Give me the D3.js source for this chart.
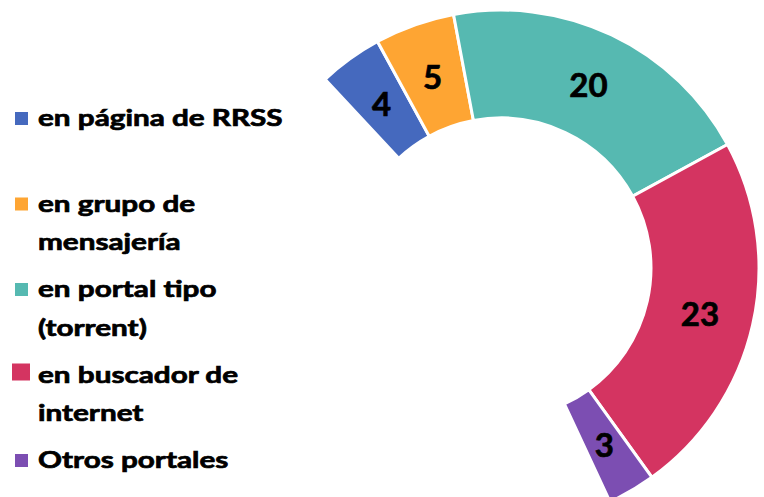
<!DOCTYPE html>
<html>
<head>
<meta charset="utf-8">
<script src="https://cdn.jsdelivr.net/npm/d3@7"></script>
<style>
  body { margin: 0; background: #fff; }
  text { font-family: Lato, "Open Sans", sans-serif; font-weight: bold; stroke: #000; stroke-width: 0.7px; }
</style>
</head>
<body>
<div id="chart"></div>
<script>
// data
const categories = ["en página de RRSS", "en grupo de mensajería", "en portal tipo (torrent)", "en buscador de internet", "Otros portales"];
const legendLines = [["en página de RRSS"], ["en grupo de", "mensajería"], ["en portal tipo", "(torrent)"], ["en buscador de", "internet"], ["Otros portales"]];
const values = [4, 5, 20, 23, 3];
const hiddenValue = 45;   // invisible remainder of the donut
const colors = ["#4569BE", "#FEA533", "#56B9B1", "#D43461", "#7C4EB2"];

const svgWidth = 764;
const svgHeight = 497;

const svg = d3.select("#chart")
    .append("svg")
    .attr("width", svgWidth)
    .attr("height", svgHeight);

// donut
const cx = 501, cy = 268;
const outerR = 258, innerR = 150;
const startDeg = -43;

const pieData = values.map((v, i) => ({ name: categories[i], value: v, color: colors[i] }))
    .concat([{ name: "hidden", value: hiddenValue, color: "none" }]);

const pie = d3.pie()
    .value(d => d.value)
    .sort(null)
    .startAngle(startDeg * Math.PI / 180)
    .endAngle(startDeg * Math.PI / 180 + 2 * Math.PI);

const arc = d3.arc()
    .innerRadius(innerR)
    .outerRadius(outerR);

const donut = svg.append("g")
    .attr("transform", `translate(${cx}, ${cy})`);

const slices = pie(pieData).filter(d => d.data.name !== "hidden");

donut.selectAll("path")
    .data(slices)
    .enter()
    .append("path")
    .attr("d", arc)
    .attr("fill", d => d.data.color)
    .attr("stroke", "#fff")
    .attr("stroke-width", 3);

donut.selectAll("text")
    .data(slices)
    .enter()
    .append("text")
    .attr("transform", d => `translate(${arc.centroid(d)})`)
    .attr("text-anchor", "middle")
    .attr("dominant-baseline", "central")
    .style("font-size", "33px")
    .attr("fill", "#000")
    .text(d => d.data.value);

// legend (text is drawn wide, like the reference)
const legend = svg.append("g");
const legendTop = 126, legendStep = 85.5, lineH = 38.5;

legendLines.forEach((lines, i) => {
    const y = legendTop + i * legendStep;
    const big = i === 3;
    legend.append("rect")
        .attr("x", big ? 12 : 15)
        .attr("y", big ? y - 19 : y - 14)
        .attr("width", big ? 18 : 13)
        .attr("height", big ? 17 : 13)
        .attr("fill", colors[i]);
    lines.forEach((t, j) => {
        legend.append("text")
            .attr("transform", `translate(38, ${y + j * lineH}) scale(1.32, 1)`)
            .style("font-size", "22.5px")
            .attr("fill", "#000")
            .text(t);
    });
});
</script>
</body>
</html>
